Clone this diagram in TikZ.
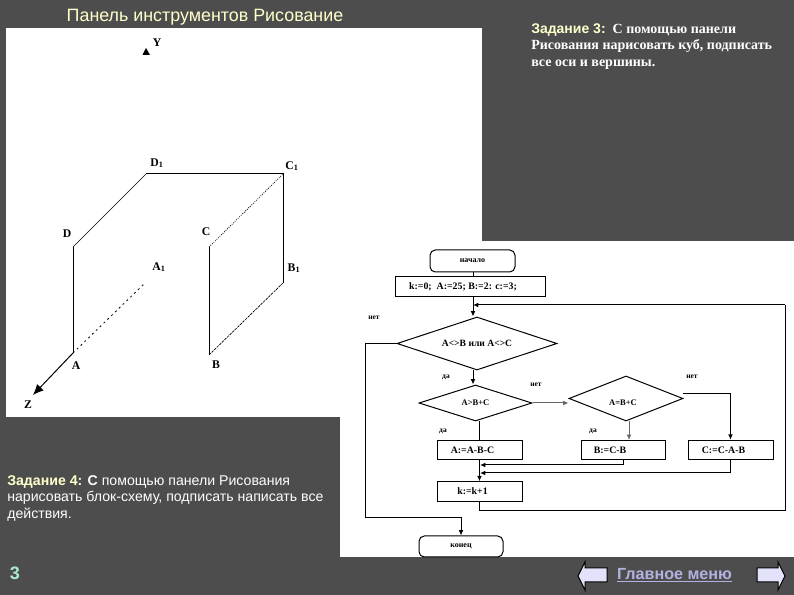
\documentclass[tikz,border=0pt]{standalone}
\usepackage{fontspec}
\setmainfont{Liberation Serif}
\setsansfont{Liberation Sans}
\usepackage{xcolor}
\usetikzlibrary{arrows.meta,positioning,calc,shapes.geometric}
\definecolor{slide}{RGB}{77,77,77}
\definecolor{headc}{RGB}{255,255,204}
\definecolor{numc}{RGB}{170,235,205}
\definecolor{navc}{RGB}{226,226,250}
\definecolor{linkc}{RGB}{178,178,225}
\def\pxs{0.75pt}
\tikzset{
  edge/.style={black,line width=0.75pt},
  flow/.style={edge,-{Latex[length=4pt,width=3.5pt]}},
  greyflow/.style={flow,gray!80!black},
  stepbox/.style={draw=black,line width=0.75pt,fill=white,inner sep=0pt,
    minimum width=85*\pxs,minimum height=19.5*\pxs,font=\fontsize{7.4}{9}\selectfont\bfseries},
  termbox/.style={stepbox,rounded corners=4pt,minimum height=22*\pxs,font=\fontsize{6}{8}\selectfont\bfseries},
  cond/.style={diamond,aspect=3.2,draw=black,line width=0.75pt,fill=white,inner sep=0pt,
    font=\fontsize{6.4}{8}\selectfont\bfseries},
  navarrow/.style={draw=black,line width=0.75pt,fill=navc},
  small/.style={font=\fontsize{5.6}{7}\selectfont\bfseries},
  cubelbl/.style={font=\fontsize{8.8}{10}\selectfont\bfseries}
}

\begin{document}
\begin{tikzpicture}[x=0.75pt,y=-0.75pt]
\useasboundingbox (0,0) rectangle (794,595);

% background and white areas
\fill[slide] (0,0) rectangle (794,595);
\fill[white] (6,28) rectangle (482,417);
\fill[white] (340,241) rectangle (794,557);

% texts of the slide
\node[anchor=center,text=headc,font=\sffamily\fontsize{13.4}{15}\selectfont] (title) at (205,17)
  {Панель инструментов Рисование};
\node[anchor=north west,inner sep=0pt,align=left,text=white,
      font=\fontsize{10.5}{12.4}\selectfont\bfseries] (task3) at (531,23)
  {\textcolor{headc}{\sffamily Задание 3:}\ \ С помощью панели\\
   Рисования нарисовать куб, подписать\\ все оси и вершины.};
\node[anchor=north west,inner sep=0pt,align=left,text=white,
      font=\sffamily\fontsize{10.6}{12.4}\selectfont] (task4) at (7,475)
  {\textcolor{headc}{\bfseries Задание 4:} \textbf{С} помощью панели Рисования\\
   нарисовать блок-схему, подписать написать все\\ действия.};
\node[text=numc,font=\sffamily\bfseries\fontsize{13.5}{15}\selectfont] (num) at (15,573) {3};
\node[text=linkc,font=\sffamily\bfseries\fontsize{12.1}{14}\selectfont] (menu) at (674.5,575)
  {\underline{Главное меню}};

% nav arrows
\draw[navarrow] (578,576) -- (585,562) -- (585,568) -- (607,568) -- (607,582)
  -- (585,582) -- (585,590) -- cycle;
\draw[navarrow] (785,576) -- (778,562) -- (778,568) -- (757,568) -- (757,582)
  -- (778,582) -- (778,590) -- cycle;

% cube
\coordinate (D1) at (146,174);
\coordinate (C1) at (283,174);
\coordinate (D) at (73,247);
\coordinate (A) at (73,353);
\coordinate (C) at (209,247);
\coordinate (B) at (209,355);
\coordinate (B1) at (283,283);
\coordinate (A1) at (145,283);
\coordinate (Zend) at (33,395);
\draw[edge] (D1) -- (C1) -- (B1);
\draw[edge] (D) -- (A);
\draw[edge] (C) -- (B);
\draw[black,line width=0.5pt] (D) -- (D1);
\draw[black,line width=0.6pt,densely dotted] (C) -- (C1);
\draw[black,line width=0.5pt,dash pattern=on 2pt off 0.7pt] (B) -- (B1);
\draw[black,line width=0.6pt,dash pattern=on 1.5pt off 2.5pt] (A) -- (A1);
\draw[edge,-{Latex[length=8pt,width=7pt]}] (A) -- (Zend);
\fill[black] (146,48) -- (150,55) -- (142.5,55) -- cycle;
\foreach \n/\x/\y/\t in {Y/157/43/Y, Dv/67/234/D, Cv/206/232/C, Av/76/366/A, Bv/216/365/B, Z/28/405/Z}{
  \node[cubelbl,inner sep=0pt] (lbl\n) at (\x,\y) {\t};
}
\foreach \n/\x/\y/\t in {Dt/157/163/D, Ct/292/166/C, At/159/267/A, Bt/294/268/B}{
  \node[cubelbl,inner sep=0pt] (lbl\n) at (\x,\y) {\t\textsubscript{1}};
}

% flowchart nodes
\node[termbox] (start) at (472.5,261) {начало};
\node[stepbox,minimum width=150*\pxs] (init) at (470,286.5)
  {k:=0;\ \ A:=25; B:=2: c:=3;\kern10.5pt};
\node[cond,minimum width=160*\pxs,minimum height=53*\pxs,font=\fontsize{7.2}{8}\selectfont\bfseries]
  (cond1) at (477,343.5) {A<>B или A<>C};
\node[cond,minimum width=113*\pxs,minimum height=36*\pxs] (cond2) at (475.5,403) {A>B+C};
\node[cond,minimum width=114*\pxs,minimum height=45*\pxs] (cond3) at (626,398.5) {};
\node[font=\fontsize{6.4}{8}\selectfont\bfseries,inner sep=0pt] (cond3txt) at (623,403) {A=B+C};
\node[stepbox] (boxa) at (479.5,450) {A:=A-B-C\kern10.5pt};
\node[stepbox,minimum width=84*\pxs] (boxb) at (623,450) {B:=C-B\kern19.5pt};
\node[stepbox] (boxc) at (730.5,450) {C:=C-A-B\kern10.5pt};
\node[stepbox] (boxk) at (479.5,491.5) {k:=k+1\kern10.5pt};
\node[termbox,minimum width=84*\pxs,minimum height=21*\pxs] (finish) at (461,546.5) {конец};

% flowchart labels
\foreach \n/\x/\y/\t in {noa/374/318/нет, yesa/446/377/да, nob/536/385/нет,
                         noc/692/377/нет, yesb/443/431/да, yesc/593/431/да}{
  \node[small,inner sep=0pt] (lbl\n) at (\x,\y) {\t};
}

% flowchart connectors
\coordinate (loop) at (473,305);
\coordinate (loopr) at (785,305);
\coordinate (loopb) at (785,511);
\coordinate (noleft) at (365,343.5);
\coordinate (nobot) at (365,518);
\coordinate (merge) at (480,473);
\coordinate (mergeb) at (480,465);
\coordinate (cond3out) at (683,394);
\coordinate (cond3bot) at (629,421);
\coordinate (boxbtop) at (629,440);
\draw[edge] (start.south -| loop) -- (init.north -| loop);
\draw[flow] (init.south -| loop) -- (loop |- cond1.north);
\draw[flow] (loop |- cond1.south) -- (loop |- cond2.north);
\draw[edge] (cond2.south -| boxa.north) -- (boxa.north);
\draw[flow] (boxa.south) -- (boxk.north);
\draw[greyflow] (cond2.east) -- (cond3.west |- cond2.east);
\draw[greyflow] (cond3bot) -- (boxbtop);
\draw[flow] (cond3out) -| (boxc.north);
\draw[flow] (boxb.south) |- (mergeb);
\draw[flow] (boxc.south) |- (merge);
\draw[edge] (boxk.south) |- (loopb) -- (loopr);
\draw[flow] (loopr) -- (loop);
\draw[edge] (cond1.west) -- (noleft) -- (nobot);
\draw[flow] (nobot) -| (finish.north);

\end{tikzpicture}
\end{document}
